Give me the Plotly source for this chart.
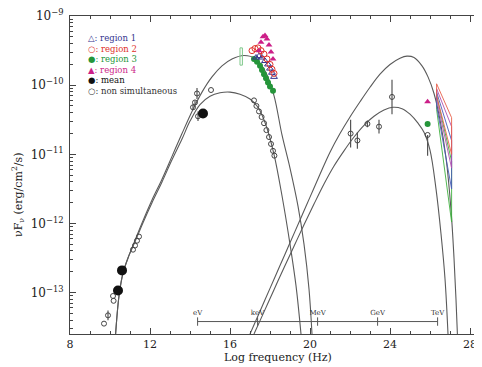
import numpy as np
import plotly.graph_objects as go

# ---------------- data (log10 nu [Hz], log10 nuFnu [erg/cm2/s]) ----------------
sync_hi_nu = [10.28, 10.45, 10.65, 10.9, 11.2, 11.65, 12.1, 12.6, 13.1, 13.6, 14.1, 14.6, 15.1, 15.6,
              16.1, 16.7, 17.3, 17.8, 18.2, 18.6, 19.0, 19.4, 19.7, 19.95, 20.1]
sync_hi_F = [-13.6, -13.05, -12.72, -12.5, -12.28, -11.96, -11.66, -11.36, -11.03, -10.7, -10.38, -10.1,
             -9.88, -9.72, -9.62, -9.57, -9.62, -9.82, -10.15, -10.72, -11.2, -11.75, -12.3, -12.95, -13.6]

sync_lo_nu = [10.28, 10.45, 10.65, 10.9, 11.2, 11.65, 12.1, 12.6, 13.1, 13.6, 14.0, 14.5, 15.0, 15.5,
              16.0, 16.5, 17.0, 17.4, 17.8, 18.2, 18.6, 19.0, 19.3, 19.55]
sync_lo_F = [-13.6, -13.05, -12.72, -12.5, -12.3, -11.99, -11.7, -11.4, -11.08, -10.78, -10.52, -10.28,
             -10.16, -10.11, -10.1, -10.13, -10.2, -10.32, -10.58, -11.0, -11.6, -12.3, -12.9, -13.6]

ic_hi_nu = [17.0, 17.5, 18.0, 18.5, 19.0, 19.5, 20.0, 20.5, 21.0, 21.5, 22.0, 22.5, 23.0, 23.5, 24.0,
            24.5, 24.85, 25.2, 25.6, 25.9, 26.2, 26.5, 26.8, 27.05, 27.2, 27.3, 27.37]
ic_hi_F = [-13.6, -13.27, -12.94, -12.61, -12.28, -11.95, -11.62, -11.29, -10.97, -10.7, -10.46, -10.24,
           -10.03, -9.84, -9.7, -9.61, -9.58, -9.6, -9.72, -9.88, -10.12, -10.5, -11.05, -11.8, -12.5,
           -13.1, -13.6]

ic_lo_nu = [17.2, 17.7, 18.2, 18.7, 19.2, 19.7, 20.2, 20.7, 21.2, 21.7, 22.2, 22.7, 23.2, 23.7, 24.15,
            24.6, 25.0, 25.4, 25.7, 26.0, 26.3, 26.55, 26.75, 26.9]
ic_lo_F = [-13.6, -13.28, -12.96, -12.64, -12.33, -12.02, -11.72, -11.43, -11.17, -10.95, -10.75, -10.58,
           -10.45, -10.36, -10.32, -10.34, -10.42, -10.55, -10.68, -10.94, -11.5, -12.15, -12.8, -13.6]

# X-ray data per region (+ TeV points)
reg1_nu = [17.3, 17.45, 17.6, 17.75, 17.9, 18.0, 18.1, 18.2]
reg1_F = [-9.6, -9.58, -9.6, -9.65, -9.7, -9.76, -9.82, -9.88]
reg2_nu = [17.1, 17.25, 17.4, 17.55, 17.7, 17.85, 18.0, 18.1, 18.2]
reg2_F = [-9.5, -9.47, -9.46, -9.5, -9.55, -9.62, -9.7, -9.77, -9.83]
reg3_nu = [17.2, 17.35, 17.5, 17.6, 17.7, 17.8, 17.9, 18.0, 18.15, 25.88]
reg3_F = [-9.62, -9.66, -9.72, -9.78, -9.84, -9.9, -9.96, -10.02, -10.08, -10.56]
reg4_nu = [17.45, 17.55, 17.65, 17.75, 17.85, 17.95, 18.05, 18.15, 25.88]
reg4_F = [-9.5, -9.38, -9.3, -9.28, -9.33, -9.42, -9.52, -9.62, -10.24]

# mean values
mean_nu = [10.4, 10.6, 14.65]
mean_F = [-12.97, -12.68, -10.41]

# non simultaneous data with (log) errors
nons_nu = [9.7, 9.9, 10.15, 10.18, 11.15, 11.25, 11.35, 11.45, 14.15, 14.25, 14.35, 14.4, 15.05,
           17.2, 17.32, 17.45, 17.58, 17.7, 17.82, 17.95, 18.05, 18.15, 18.22,
           22.03, 22.37, 22.87, 23.45, 24.1, 25.88]
nons_F = [-13.45, -13.33, -13.05, -13.12, -12.38, -12.32, -12.25, -12.19, -10.32, -10.25, -10.12, -10.45,
          -10.07, -10.22, -10.3, -10.38, -10.46, -10.55, -10.65, -10.75, -10.85, -10.95, -11.02,
          -10.7, -10.8, -10.56, -10.6, -10.17, -10.72]
nons_err = [0, 0.07, 0, 0, 0, 0, 0, 0, 0.04, 0.03, 0.08, 0.07, 0,
            0, 0, 0, 0, 0, 0, 0, 0, 0, 0,
            0.2, 0.12, 0.05, 0.1, 0.25, 0.0]
nons_err_lo = [0, 0.07, 0, 0, 0, 0, 0, 0, 0.04, 0.03, 0.08, 0.07, 0,
               0, 0, 0, 0, 0, 0, 0, 0, 0, 0,
               0.2, 0.12, 0.05, 0.1, 0.25, 0.3]

# UV box (region 3)
uv_nu = [16.5, 16.62]
uv_F = [-9.71, -9.46]

# TeV bowties: left/right log nu, left (top,bottom), right (top,bottom)
bow_nu = [26.33, 27.08]
bow_left = {"red": (-9.98, -10.15), "mag": (-10.05, -10.2), "blue": (-10.1, -10.3), "green": (-10.15, -10.35)}
bow_right = {"red": (-10.47, -11.0), "mag": (-10.6, -11.2), "blue": (-10.8, -11.5), "green": (-11.1, -11.98)}

# energy scale
energy_labels = ["eV", "keV", "MeV", "GeV", "TeV"]
energy_nu = [14.38, 17.38, 20.38, 23.38, 26.38]
energy_axis_F = -13.42

legend_labels = ["region 1", "region 2", "region 3", "region 4", "mean", "non simultaneous"]
legend_symbols = ["△", "○", "●", "▲", "●", "○"]

# ---------------- styling ----------------
C1 = "#35358f"
C2 = "#e0302a"
C3 = "#25953a"
C4 = "#cc1f88"
CK = "#111111"
colors = {"red": "#e8604a", "mag": "#b050b0", "blue": "#4a5ab8", "green": "#40b040"}
legend_colors = [C1, C2, C3, C4, CK, "#333333"]
FONT = "DejaVu Serif"

# page body has an 8px margin: the figure is shifted by OFF px, compensate
OFF = 8
L, T, PW, PH = 70, 16, 412, 318   # plot area in window pixels


def p(v):
    return [10 ** x for x in v]


def px(xw):
    return (xw - L) / PW


def py(yw):
    return (T + PH - yw) / PH


fig = go.Figure()

for nu, F in [(sync_hi_nu, sync_hi_F), (sync_lo_nu, sync_lo_F), (ic_hi_nu, ic_hi_F), (ic_lo_nu, ic_lo_F)]:
    fig.add_trace(go.Scatter(x=nu, y=p(F), mode="lines", line=dict(color="#5a5a5a", width=1.1, shape="spline"),
                             hoverinfo="skip"))

# bowties
for k in ["green", "blue", "mag", "red"]:
    lt, lb = bow_left[k]
    rt, rb = bow_right[k]
    fig.add_trace(go.Scatter(x=[bow_nu[0], bow_nu[1], bow_nu[1], bow_nu[0], bow_nu[0]],
                             y=p([lt, rt, rb, lb, lt]), mode="lines",
                             line=dict(color=colors[k], width=0.9)))

# UV box
fig.add_trace(go.Scatter(x=[uv_nu[0], uv_nu[1], uv_nu[1], uv_nu[0], uv_nu[0]],
                         y=p([uv_F[0], uv_F[0], uv_F[1], uv_F[1], uv_F[0]]), mode="lines",
                         line=dict(color="#7fc88a", width=1)))

# energy axis
fig.add_trace(go.Scatter(x=[energy_nu[0], energy_nu[-1]], y=p([energy_axis_F] * 2), mode="lines",
                         line=dict(color="#555555", width=1)))
fig.add_trace(go.Scatter(x=energy_nu, y=p([energy_axis_F] * len(energy_nu)), mode="markers+text",
                         marker=dict(symbol="line-ns", size=6, line=dict(color="#555555", width=1)),
                         text=energy_labels, textposition="top center",
                         textfont=dict(family=FONT, size=7, color="#333333")))

# non simultaneous
up = [10 ** (f + e) - 10 ** f for f, e in zip(nons_F, nons_err)]
dn = [10 ** f - 10 ** (f - e) for f, e in zip(nons_F, nons_err_lo)]
fig.add_trace(go.Scatter(x=nons_nu, y=p(nons_F), mode="markers",
                         marker=dict(symbol="circle-open", size=5, color="#444444", line=dict(width=1)),
                         error_y=dict(type="data", array=up, arrayminus=dn, color="#555555",
                                      thickness=1.2, width=0)))

# regions
fig.add_trace(go.Scatter(x=reg3_nu, y=p(reg3_F), mode="markers",
                         marker=dict(symbol="circle", size=6, color=C3)))
fig.add_trace(go.Scatter(x=reg1_nu, y=p(reg1_F), mode="markers",
                         marker=dict(symbol="triangle-up-open", size=6, color=C1, line=dict(width=1))))
fig.add_trace(go.Scatter(x=reg2_nu, y=p(reg2_F), mode="markers",
                         marker=dict(symbol="circle-open", size=6, color=C2, line=dict(width=1))))
fig.add_trace(go.Scatter(x=reg4_nu, y=p(reg4_F), mode="markers",
                         marker=dict(symbol="triangle-up", size=6, color=C4)))

# mean
fig.add_trace(go.Scatter(x=mean_nu, y=p(mean_F), mode="markers",
                         marker=dict(symbol="circle", size=10, color=CK)))

# legend as annotations
row_y0 = 38
row_dy = 10.6
for i, (lab, sym, col) in enumerate(zip(legend_labels, legend_symbols, legend_colors)):
    ypx = row_y0 + i * row_dy
    fig.add_annotation(xref="paper", yref="paper", x=px(86), y=py(ypx),
                       xanchor="left", yanchor="middle", showarrow=False,
                       text=sym + ": " + lab, font=dict(family=FONT, size=8.5, color=col))

# axis titles
fig.add_annotation(xref="paper", yref="paper", x=px(278), y=py(357),
                   xanchor="center", yanchor="middle", showarrow=False,
                   text="Log frequency (Hz)", font=dict(family=FONT, size=11, color="#222222"))
fig.add_annotation(xref="paper", yref="paper", x=px(18), y=py(195),
                   xanchor="center", yanchor="middle", showarrow=False, textangle=-90,
                   text="νF<sub>ν</sub> (erg/cm<sup>2</sup>/s)", font=dict(family=FONT, size=11, color="#222222"))

y_tickvals = [1e-13, 1e-12, 1e-11, 1e-10, 1e-9]
y_ticktext = ["10<sup>−13</sup>", "10<sup>−12</sup>", "10<sup>−11</sup>", "10<sup>−10</sup>", "10<sup>−9</sup>"]
y_minor = [m * 10 ** k for k in range(-14, -9) for m in range(2, 10)]

fig.update_layout(
    width=482 - OFF, height=367 - OFF,
    margin=dict(l=L - OFF, r=482 - L - PW, t=T - OFF, b=367 - T - PH),
    paper_bgcolor="white", plot_bgcolor="white",
    showlegend=False,
    xaxis=dict(range=[8, 28.6], tickvals=[8, 12, 16, 20, 24, 28], ticks="inside", ticklen=6,
               tickcolor="#444", showline=True, linecolor="#444", linewidth=1, mirror="allticks",
               showgrid=False, zeroline=False, ticklabeloverflow="allow",
               minor=dict(tickvals=list(range(9, 29)), ticks="inside", ticklen=3, tickcolor="#444"),
               tickfont=dict(family=FONT, size=11, color="#222")),
    yaxis=dict(type="log", range=[-13.6, -8.999], tickvals=y_tickvals, ticktext=y_ticktext,
               ticks="inside", ticklen=6, tickcolor="#444", showline=True, linecolor="#444",
               linewidth=1, mirror="allticks", showgrid=False, zeroline=False,
               ticklabeloverflow="allow",
               minor=dict(tickvals=y_minor, ticks="inside", ticklen=3, tickcolor="#444"),
               tickfont=dict(family=FONT, size=12, color="#222"), ticklabelstandoff=3),
)

fig.write_html("out.html")
